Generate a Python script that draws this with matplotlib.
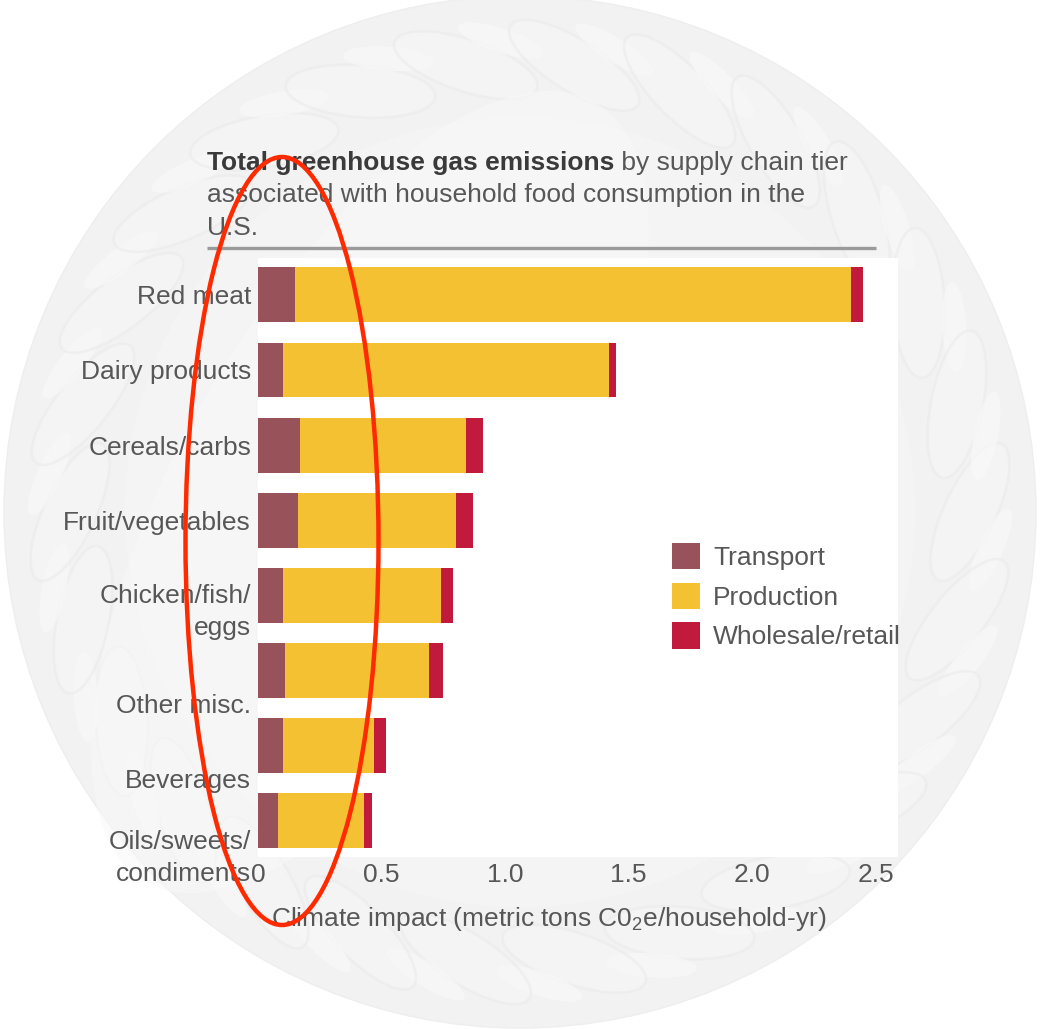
import numpy as np
import matplotlib
matplotlib.use("Agg")
import matplotlib.pyplot as plt
from matplotlib.patches import Circle, Ellipse, Patch
from matplotlib.transforms import offset_copy

plt.rcParams['font.family'] = ['Liberation Sans', 'DejaVu Sans']
plt.rcParams['mathtext.fontset'] = 'custom'
plt.rcParams['mathtext.rm'] = 'Liberation Sans'
plt.rcParams['mathtext.it'] = 'Liberation Sans:italic'

# ---------------- data ----------------
categories = ["Red meat", "Dairy products", "Cereals/carbs", "Fruit/vegetables",
              "Chicken/fish/\neggs", "Other misc.", "Beverages", "Oils/sweets/\ncondiments"]
transport = [0.15, 0.10, 0.17, 0.16, 0.10, 0.11, 0.10, 0.08]
production = [2.25, 1.32, 0.67, 0.64, 0.64, 0.58, 0.37, 0.35]
wholesale = [0.05, 0.03, 0.07, 0.07, 0.05, 0.06, 0.05, 0.03]
series_names = ["Transport", "Production", "Wholesale/retail"]
xticks = [0, 0.5, 1.0, 1.5, 2.0, 2.5]
xtick_labels = ["0", "0.5", "1.0", "1.5", "2.0", "2.5"]

# ---------------- styles ----------------
colors = ["#98525a", "#f4c132", "#c21a3c"]
label_dy_px = [0, 0, 0, 0, 10, 33, 33, 31]   # label drift seen in the source
W, H = 1041, 1029
DPI = 100
TXT = "#575757"
FS = 19

fig = plt.figure(figsize=(W / DPI, H / DPI), dpi=DPI, facecolor="white")

# background plate (pixel coordinates)
bg = fig.add_axes([0, 0, 1, 1], zorder=0)
bg.set_xlim(0, W)
bg.set_ylim(H, 0)
bg.axis("off")
cx, cy, R = 520, 512, 516
bg.add_patch(Circle((cx, cy), R, facecolor="#f2f2f2", edgecolor="#eeeeee", lw=1.0))
n_lobes = 26
for k in range(n_lobes):
    a = 2 * np.pi * k / n_lobes
    r = 450
    x, y = cx + r * np.cos(a), cy + r * np.sin(a)
    ang = np.degrees(a) + 90 + 25
    bg.add_patch(Ellipse((x, y), 150, 52, angle=ang, facecolor="#f7f7f7",
                         edgecolor="#eaeaea", lw=2, alpha=0.5))
    bg.add_patch(Ellipse((cx + 472 * np.cos(a + 0.08), cy + 472 * np.sin(a + 0.08)),
                         90, 24, angle=ang, facecolor="#fafafa", edgecolor="none", alpha=0.6))
bg.add_patch(Circle((cx, cy), 395, facecolor="#f5f5f5", edgecolor="none", alpha=0.9))
bg.add_patch(Ellipse((cx - 150, cy - 20), 380, 900, angle=30, facecolor="#f9f9f9",
                     edgecolor="none", alpha=0.5))

# title
renderer = fig.canvas.get_renderer()
t1 = bg.text(207, 170, "Total greenhouse gas emissions", fontsize=FS, fontweight="bold",
             color="#3a3a3a", va="baseline", ha="left")
bb = t1.get_window_extent(renderer=renderer)
x_end = bb.x1
bg.text(x_end, 170, " by supply chain tier", fontsize=FS, color=TXT, va="baseline", ha="left")
bg.text(207, 202, "associated with household food consumption in the", fontsize=FS,
        color=TXT, va="baseline", ha="left")
bg.text(207, 235, "U.S.", fontsize=FS, color=TXT, va="baseline", ha="left")
bg.plot([207, 876], [248, 248], color="#9a9a9a", lw=2.4, solid_capstyle="butt")

# chart axes
ax_l, ax_r, ax_t, ax_b = 258, 898, 258, 857
ax = fig.add_axes([ax_l / W, 1 - ax_b / H, (ax_r - ax_l) / W, (ax_b - ax_t) / H], zorder=1)
ax.set_facecolor("white")
ypos = np.arange(len(categories))
left = np.zeros(len(categories))
for vals, c, name in zip([transport, production, wholesale], colors, series_names):
    ax.barh(ypos, vals, left=left, height=0.73, color=c, label=name, edgecolor="none")
    left = left + np.array(vals)

ax.set_xlim(0, 2.59)
ax.set_ylim(7.48, -0.49)
for s in ax.spines.values():
    s.set_visible(False)
ax.set_xticks(xticks)
ax.set_xticklabels(xtick_labels)
ax.set_yticks(ypos)
ax.set_yticklabels(categories)
ax.tick_params(axis="both", length=0, labelsize=FS, labelcolor=TXT)
ax.tick_params(axis="x", pad=4)
ax.tick_params(axis="y", pad=5)
for lab, dy in zip(ax.get_yticklabels(), label_dy_px):
    lab.set_multialignment("right")
    lab.set_linespacing(1.4)
    lab.set_transform(offset_copy(lab.get_transform(), fig=fig, x=0, y=-dy, units="dots"))

ax.set_xlabel("Climate impact (metric tons C0$_2$e/household-yr)", fontsize=FS, color=TXT)
ax.xaxis.set_label_coords(0.455, -0.080)

handles = [Patch(facecolor=c, edgecolor="none") for c in colors]
ax.legend(handles, series_names, loc="upper left",
          bbox_to_anchor=(672 / W, 1 - 543 / H), bbox_transform=fig.transFigure,
          frameon=False, fontsize=FS, handlelength=1.05, handleheight=1.15,
          handletextpad=0.5, labelspacing=0.48, borderpad=0, borderaxespad=0,
          labelcolor=TXT)

# red ellipse overlay
ov = fig.add_axes([0, 0, 1, 1], zorder=3)
ov.set_xlim(0, W)
ov.set_ylim(H, 0)
ov.axis("off")
ov.patch.set_alpha(0)
ov.add_patch(Ellipse((282, 541), 193, 768, fill=False, edgecolor="#ff2a00", lw=3.2))

fig.savefig("out.png", dpi=DPI, facecolor="white")
